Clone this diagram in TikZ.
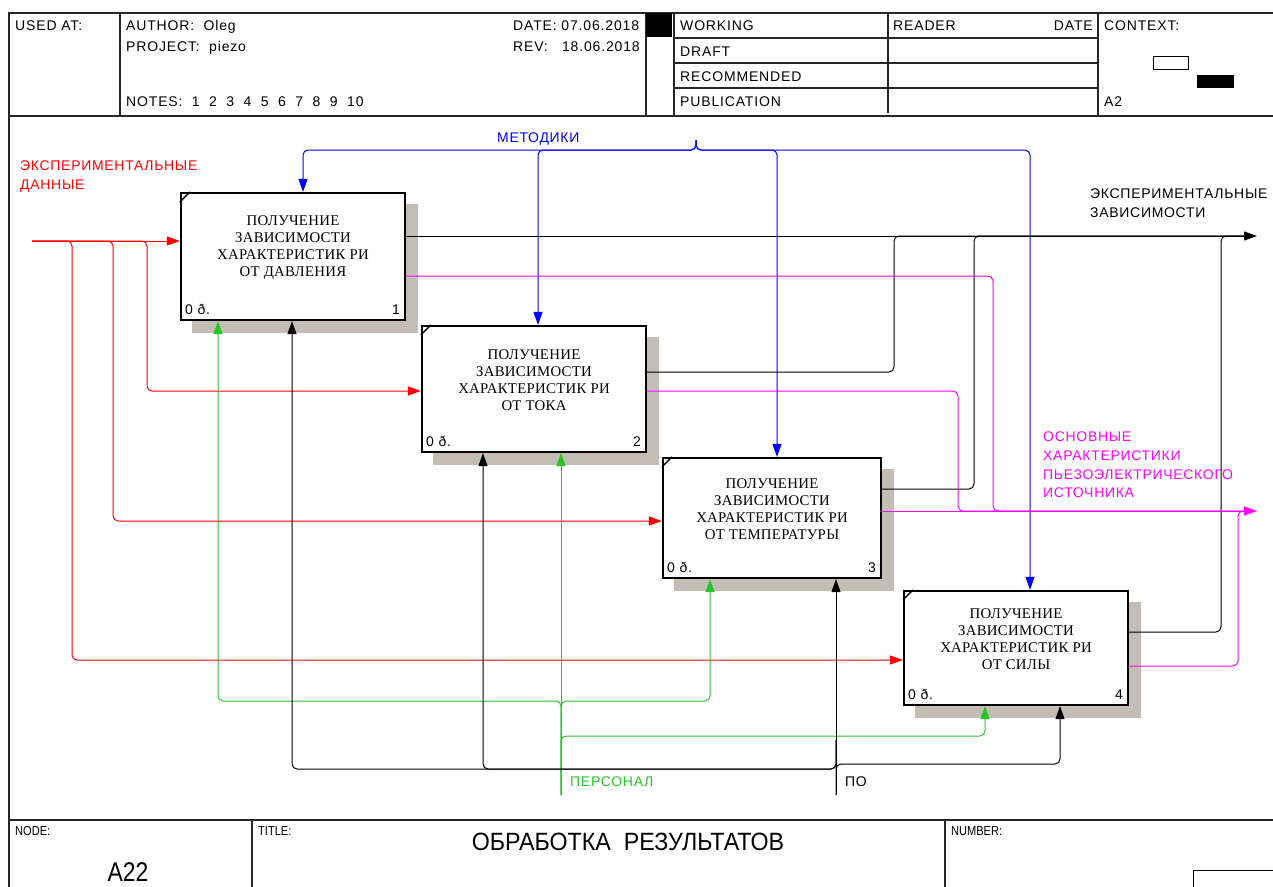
\documentclass[tikz,border=0pt]{standalone}
\usepackage{fontspec}
\setmainfont{Liberation Sans}
\newfontfamily\hdrfont[LetterSpace=6]{Liberation Sans}
\newfontfamily\lblfont[LetterSpace=5]{Liberation Sans}
\newfontfamily\boxfont[LetterSpace=2]{Liberation Serif}
\newfontfamily\narrowfont[FakeStretch=0.85]{Liberation Sans}
\newfontfamily\titlefont[FakeStretch=0.93]{Liberation Sans}
\usetikzlibrary{arrows.meta,backgrounds}

\definecolor{idefred}{RGB}{255,0,0}
\definecolor{idefblue}{RGB}{0,0,255}
\definecolor{idefmag}{RGB}{255,0,255}
\definecolor{idefgreen}{RGB}{40,195,40}
\definecolor{shadowgray}{RGB}{194,190,182}

\tikzset{
  frame/.style={line width=1.3pt, draw=black!85},
  flow/.style={line width=1pt, rounded corners=5pt},
  tip/.style={-{Triangle[length=13pt,width=9pt]}},
  abox/.style={draw, line width=2.2pt, fill=white, inner sep=0pt},
  boxtxt/.style={font=\boxfont\fontsize{14.8}{17}\selectfont, align=center, inner sep=0pt},
  corner/.style={font=\hdrfont\fontsize{14}{15}\selectfont, inner sep=0pt},
  hdr/.style={font=\hdrfont\fontsize{14}{16}\selectfont, inner sep=0pt, anchor=base west},
  lbl/.style={font=\lblfont\fontsize{14}{18.6}\selectfont, inner sep=0pt, anchor=north west, align=left},
  foot/.style={font=\narrowfont\fontsize{13}{14}\selectfont, inner sep=0pt, anchor=base west},
}

\begin{document}
\begin{tikzpicture}[x=1pt,y=-1pt]
\useasboundingbox (0,0) rectangle (1273,886);
\clip (0,0) rectangle (1273,886);

% ---------- form frame ----------
\draw[frame] (9,900) -- (9,13) -- (1290,13);
\draw[frame] (9,116) -- (1290,116);
\draw[frame] (9,820) -- (1290,820);
\foreach \x in {120,646,674,1098} \draw[frame] (\x,13) -- (\x,116);
\draw[frame] (888,13) -- (888,113);
\foreach \y in {38,63,88} \draw[frame] (674,\y) -- (1098,\y);
\fill (646,13) rectangle (672,37);
\draw[line width=1pt] (1153,56) rectangle (1188,69);
\fill (1197,75) rectangle (1234,88);
\draw[frame] (252,820) -- (252,900);
\draw[frame] (945,820) -- (945,900);
\draw[line width=1pt] (1193,870) rectangle (1290,900);

% ---------- header texts ----------
\node[hdr] (usedat) at (15,30) {USED AT:};
\node[hdr] (author) at (126,30) {AUTHOR:\ \ Oleg};
\node[hdr] (project) at (126,51) {PROJECT:\ \ piezo};
\node[hdr] (notes) at (126,106) {NOTES:\ \ 1\ \ 2\ \ 3\ \ 4\ \ 5\ \ 6\ \ 7\ \ 8\ \ 9\ \ 10};
\node[hdr] (date) at (513,30) {DATE:\ 07.06.2018};
\node[hdr] (rev) at (513,51) {REV:\ \ \ 18.06.2018};
\node[hdr] (working) at (680,30) {WORKING};
\node[hdr] (draft) at (680,56) {DRAFT};
\node[hdr] (recom) at (680,81) {RECOMMENDED};
\node[hdr] (publ) at (680,106) {PUBLICATION};
\node[hdr] (reader) at (893,30) {READER};
\node[hdr, anchor=base east] (rdate) at (1093,30) {DATE};
\node[hdr] (context) at (1104,30) {CONTEXT:};
\node[hdr] (ctxnode) at (1104,106) {A2};

% ---------- footer texts ----------
\node[foot] (nodelbl) at (15,835) {NODE:};
\node[foot] (titlelbl) at (258,835) {TITLE:};
\node[foot] (numlbl) at (951,835) {NUMBER:};
\node[font=\titlefont\fontsize{25}{28}\selectfont, inner sep=0pt, anchor=base] (title) at (628,850) {ОБРАБОТКА\ \ РЕЗУЛЬТАТОВ};
\node[font=\narrowfont\fontsize{27}{30}\selectfont, inner sep=0pt, anchor=base] (nodenum) at (128,881) {A22};

% ---------- activity boxes ----------
\node[abox, minimum width=224pt, minimum height=127pt] (b1) at (293,256.5) {};
\node[abox, minimum width=224pt, minimum height=126pt] (b2) at (534,389) {};
\node[abox, minimum width=218pt, minimum height=120pt] (b3) at (772,518) {};
\node[abox, minimum width=224pt, minimum height=114pt] (b4) at (1016,648) {};

\begin{scope}[on background layer]
  \foreach \b in {b1,b2,b3,b4}
    \fill[shadowgray] ([shift={(12pt,-12pt)}]\b.north west) rectangle ([shift={(12pt,-12pt)}]\b.south east);
\end{scope}

\node[boxtxt] (t1) at ([yshift=9pt]b1.center) {ПОЛУЧЕНИЕ\\ЗАВИСИМОСТИ\\ХАРАКТЕРИСТИК РИ\\ОТ ДАВЛЕНИЯ};
\node[boxtxt] (t2) at ([yshift=9pt]b2.center) {ПОЛУЧЕНИЕ\\ЗАВИСИМОСТИ\\ХАРАКТЕРИСТИК РИ\\ОТ ТОКА};
\node[boxtxt] (t3) at ([yshift=9pt]b3.center) {ПОЛУЧЕНИЕ\\ЗАВИСИМОСТИ\\ХАРАКТЕРИСТИК РИ\\ОТ ТЕМПЕРАТУРЫ};
\node[boxtxt] (t4) at ([yshift=9pt]b4.center) {ПОЛУЧЕНИЕ\\ЗАВИСИМОСТИ\\ХАРАКТЕРИСТИК РИ\\ОТ СИЛЫ};

\foreach \b/\n in {b1/1,b2/2,b3/3,b4/4}{
  \draw[line width=1.4pt] ([yshift=-10pt]\b.north west) -- ([xshift=10pt]\b.north west);
  \node[corner, anchor=base west] (\b cost) at ([shift={(5pt,7pt)}]\b.south west) {0 ð.};
  \node[corner, anchor=base east] (\b num) at ([shift={(-6pt,7pt)}]\b.south east) {\n};
}

% ---------- connector end points ----------
\coordinate (redIn) at (32,241);
\coordinate (methSrc) at (696,140);
\coordinate (expTip) at (1257,236);
\coordinate (expEnd) at (1246,236);
\coordinate (chrTip) at (1257,511);
\coordinate (chrEnd) at (1246,511);
\coordinate (persSrc) at (561,795);
\coordinate (poSrc) at (836,795);
\coordinate (poJoin) at (836,740);

% inputs
\draw[flow, idefred, tip] (redIn) -- (b1.west |- redIn);
\draw[flow, idefred, tip] (redIn) -- (147,241) -- (147,391) -- (b2.west |- 0,391);
\draw[flow, idefred, tip] (redIn) -- (113,241) -- (113,521) -- (b3.west |- 0,521);
\draw[flow, idefred, tip] (redIn) -- (72,241) -- (72,660) -- (b4.west |- 0,660);

% controls
\draw[flow, idefblue, tip] (methSrc) -- (696,150) -- (303,150) -- (303,0 |- b1.north);
\draw[flow, idefblue, tip] (methSrc) -- (696,150) -- (538,150) -- (538,0 |- b2.north);
\draw[flow, idefblue, tip] (methSrc) -- (696,150) -- (777,150) -- (777,0 |- b3.north);
\draw[flow, idefblue, tip] (methSrc) -- (696,150) -- (1030,150) -- (1030,0 |- b4.north);

% outputs: dependencies
\draw[flow, tip] (b1.east |- 0,236) -- (expTip);
\draw[flow] (b2.east |- 0,372) -- (894,372) -- (894,236) -- (expEnd);
\draw[flow] (b3.east |- 0,489) -- (974,489) -- (974,236) -- (expEnd);
\draw[flow] (b4.east |- 0,632) -- (1221,632) -- (1221,236) -- (expEnd);

% outputs: characteristics
\draw[flow, idefmag] (b1.east |- 0,276) -- (993,276) -- (993,511) -- (chrEnd);
\draw[flow, idefmag] (b2.east |- 0,391) -- (958,391) -- (958,511) -- (chrEnd);
\draw[flow, idefmag, tip] (b3.east |- 0,511) -- (chrTip);
\draw[flow, idefmag] (b4.east |- 0,666) -- (1238,666) -- (1238,511) -- (chrEnd);

% mechanisms: staff
\draw[flow, idefgreen, tip] (persSrc) -- (561,0 |- b2.south);
\draw[flow, idefgreen, tip] (persSrc) -- (561,701) -- (218,701) -- (218,0 |- b1.south);
\draw[flow, idefgreen, tip] (persSrc) -- (561,701) -- (710,701) -- (710,0 |- b3.south);
\draw[flow, idefgreen, tip] (persSrc) -- (561,736) -- (985,736) -- (985,0 |- b4.south);

% mechanisms: software
\draw[flow, tip] (poSrc) -- (836,0 |- b3.south);
\draw[flow, tip] (poJoin) -- (836,769) -- (292,769) -- (292,0 |- b1.south);
\draw[flow, tip] (poJoin) -- (836,769) -- (483,769) -- (483,0 |- b2.south);
\draw[flow, tip] (poSrc) -- (836,764) -- (1060,764) -- (1060,0 |- b4.south);

% ---------- arrow labels ----------
\node[lbl, text=idefred] (lblIn) at (20,161) {ЭКСПЕРИМЕНТАЛЬНЫЕ\\ДАННЫЕ};
\node[lbl, text=idefblue] (lblMeth) at (497,133) {МЕТОДИКИ};
\node[lbl] (lblExp) at (1090,189) {ЭКСПЕРИМЕНТАЛЬНЫЕ\\ЗАВИСИМОСТИ};
\node[lbl, text=idefmag] (lblChr) at (1043,432) {ОСНОВНЫЕ\\ХАРАКТЕРИСТИКИ\\ПЬЕЗОЭЛЕКТРИЧЕСКОГО\\ИСТОЧНИКА};
\node[lbl, text=idefgreen] (lblPers) at (570,777) {ПЕРСОНАЛ};
\node[lbl] (lblPo) at (845,777) {ПО};
\end{tikzpicture}
\end{document}
